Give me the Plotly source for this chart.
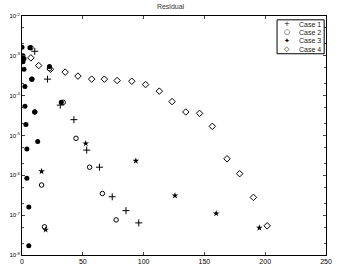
import plotly.graph_objects as go

# Case 1 (+)
case1_x = [10.5, 21.0, 31.5, 42.7, 53.2, 63.7, 74.2, 85.5, 96.0]
case1_y = [1.3e-3, 2.6e-4, 5.8e-5, 2.5e-5, 4.3e-6, 1.6e-6, 2.9e-7, 1.3e-7, 6.4e-8]

# Case 2 (o)
case2_x = [7.3, 8.1, 10.5, 16.1, 18.5, 22.6, 33.9, 44.4, 55.6, 66.1, 77.4]
case2_y = [1.6e-3, 2.6e-4, 3.9e-5, 5.7e-7, 5.1e-8, 4.8e-4, 6.8e-5, 8.5e-6, 1.6e-6, 3.5e-7, 7.6e-8]

# Case 3 (filled star), early iterations cluster near the axis
case3_early_x = [0.0, 0.8, 1.6, 0.8, 1.6, 2.4, 2.4, 3.2, 4.0, 4.0, 5.6, 5.6, 12.9,
                 6.5, 8.1, 10.5, 22.6, 32.3]
case3_early_y = [1.65e-3, 1.0e-3, 8.5e-4, 7.1e-4, 4.6e-4, 1.7e-4, 5.4e-5, 1.9e-5, 4.6e-6,
                 8.5e-7, 1.6e-7, 1.7e-8, 7.1e-6,
                 1.6e-3, 2.6e-4, 3.9e-5, 5.4e-4, 6.8e-5]
case3_x = [16.1, 19.4, 52.4, 93.6, 125.8, 159.7, 195.2]
case3_y = [1.26e-6, 4.3e-8, 6.3e-6, 2.3e-6, 3.1e-7, 1.1e-7, 4.8e-8]

# Case 4 (diamond)
case4_x = [7.3, 13.7, 23.4, 35.5, 46.0, 57.3, 67.7, 78.2, 90.3, 101.6, 112.9, 123.4,
           134.7, 146.0, 156.5, 168.6, 179.0, 190.3, 201.6]
case4_y = [8.9e-4, 5.7e-4, 4.6e-4, 3.9e-4, 3.1e-4, 2.6e-4, 2.6e-4, 2.4e-4, 2.3e-4, 1.9e-4,
           1.3e-4, 7.1e-5, 3.9e-5, 3.6e-5, 1.7e-5, 2.6e-6, 1.1e-6, 2.8e-7, 5.4e-8]

legend_names = ["Case 1", "Case 2", "Case 3", "Case 4"]
legend_glyphs = ["+", "○", "✦", "◇"]

x_ticks = [0, 50, 100, 150, 200, 250]
y_ticks = [1e-8, 1e-7, 1e-6, 1e-5, 1e-4, 1e-3, 1e-2]
y_tick_text = ["10<sup>-8</sup>", "10<sup>-7</sup>", "10<sup>-6</sup>", "10<sup>-5</sup>",
               "10<sup>-4</sup>", "10<sup>-3</sup>", "10<sup>-2</sup>"]

fig = go.Figure()
fig.add_trace(go.Scatter(x=case1_x, y=case1_y, mode="markers", name="Case 1",
                         marker=dict(symbol="cross-thin-open", size=5, color="black",
                                     line=dict(width=1, color="black"))))
fig.add_trace(go.Scatter(x=case2_x, y=case2_y, mode="markers", name="Case 2",
                         marker=dict(symbol="circle-open", size=4.5, color="black",
                                     line=dict(width=1, color="black"))))
fig.add_trace(go.Scatter(x=case3_early_x, y=case3_early_y, mode="markers", name="Case 3",
                         marker=dict(symbol="circle", size=5, color="black")))
fig.add_trace(go.Scatter(x=case3_x, y=case3_y, mode="markers", name="Case 3",
                         marker=dict(symbol="star", size=5, color="black")))
fig.add_trace(go.Scatter(x=case4_x, y=case4_y, mode="markers", name="Case 4",
                         marker=dict(symbol="diamond-open", size=5, color="black",
                                     line=dict(width=1, color="black"))))

# legend box drawn manually (compact, MATLAB-like)
lx0, lx1, ly0, ly1 = 0.839, 0.994, 0.842, 0.984
fig.add_shape(type="rect", xref="paper", yref="paper", x0=lx0, x1=lx1, y0=ly0, y1=ly1,
              line=dict(color="black", width=1), fillcolor="white", layer="above")
row_y = [0.966, 0.931, 0.896, 0.861]
for name, glyph, yy in zip(legend_names, legend_glyphs, row_y):
    fig.add_annotation(xref="paper", yref="paper", x=0.871, y=yy, text=glyph,
                       showarrow=False, xanchor="center", yanchor="middle",
                       font=dict(family="DejaVu Sans", size=7, color="black"))
    fig.add_annotation(xref="paper", yref="paper", x=0.906, y=yy, text=name,
                       showarrow=False, xanchor="left", yanchor="middle",
                       font=dict(size=7, color="#222"))

fig.update_layout(
    width=341, height=274,
    margin=dict(l=22, r=9, t=16, b=11),
    paper_bgcolor="white", plot_bgcolor="white",
    font=dict(family="Liberation Sans, Arial, sans-serif", size=7, color="black"),
    title=dict(text="Residual", x=0.5, xanchor="center", y=0.985, yanchor="top",
               font=dict(size=7, color="#333")),
    showlegend=False,
    xaxis=dict(range=[0, 250], tickvals=x_ticks, ticks="inside", ticklen=3,
               showline=True, linecolor="black", linewidth=1, mirror="ticks",
               showgrid=False, zeroline=False, tickfont=dict(size=7)),
    yaxis=dict(type="log", range=[-8, -2], tickvals=y_ticks, ticktext=y_tick_text,
               ticks="inside", ticklen=3, showline=True, linecolor="black", linewidth=1,
               mirror="ticks", showgrid=False, zeroline=False, tickfont=dict(size=6),
               minor=dict(ticks="inside", ticklen=2, showgrid=False)),
)

fig.write_html("out.html")
